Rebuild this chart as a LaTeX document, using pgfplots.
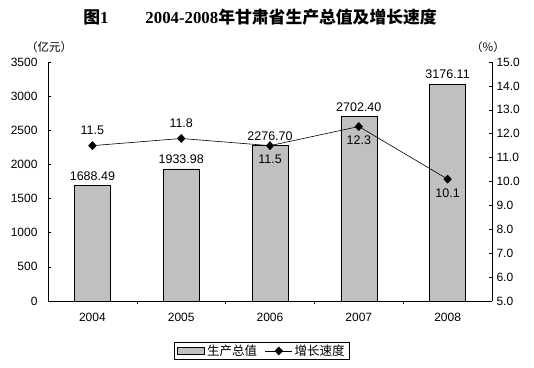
\documentclass[border=0pt]{standalone}
\usepackage{fontspec}
\setmainfont{Liberation Sans}
\newfontfamily\cjk{Noto Sans CJK SC}
\newfontfamily\titlelat{Liberation Serif}
\usepackage{pgfplots}
\pgfplotsset{compat=1.18}
\definecolor{bargray}{HTML}{C0C0C0}
\pgfplotsset{
  barleg/.style={legend image code/.code={\draw[fill=bargray,draw=black,line width=0.6pt] (0pt,-3.5pt) rectangle (27pt,3.5pt);}},
  lineleg/.style={legend image code/.code={\draw[##1, mark repeat=2, mark phase=2] plot coordinates {(0pt,0pt) (13.5pt,0pt) (27pt,0pt)};}},
}
\begin{document}
\begin{tikzpicture}[x=1pt,y=1pt]
\path[use as bounding box] (-48,-66) rectangle (486,301);
\begin{axis}[
  scale only axis, width=444pt, height=239pt, at={(0,0)}, anchor=south west,
  xmin=-0.5, xmax=4.5, ymin=0, ymax=3500,
  ytick={0,500,...,3500},
  axis x line*=bottom, axis y line*=left,
  xtick={0.5,1.5,2.5,3.5}, xticklabels={},
  extra x ticks={0,1,2,3,4},
  extra x tick labels={2004,2005,2006,2007,2008},
  extra x tick style={major tick length=0pt},
  tick align=inside, major tick length=3pt,
  every tick/.style={black, line width=0.6pt},
  axis line style={black, line width=0.6pt},
  ticklabel style={font=\fontsize{12}{14}\selectfont},
  xticklabel style={yshift=-9pt},
  yticklabel style={xshift=-7pt},
  /pgf/number format/assume math mode=true,
  /pgf/number format/1000 sep={},
  ybar, bar width=36pt,
  nodes near coords,
  point meta=explicit symbolic,
  every node near coord/.append style={font=\fontsize{12.5}{14}\selectfont, anchor=south, yshift=1.5pt},
]
\addplot[fill=bargray, draw=black, line width=0.6pt] table[meta=lab] {
x y lab
0 1688.49 1688.49
1 1933.98 1933.98
2 2276.70 2276.70
3 2702.40 2702.40
4 3176.11 3176.11
};
\end{axis}
\begin{axis}[
  scale only axis, width=444pt, height=239pt, at={(0,0)}, anchor=south west,
  xmin=-0.5, xmax=4.5, ymin=5, ymax=15,
  ytick={5,6,...,15},
  axis x line=none, axis y line*=right,
  tick align=inside, major tick length=3pt,
  every tick/.style={black, line width=0.6pt},
  axis line style={black, line width=0.6pt},
  ticklabel style={font=\fontsize{12}{14}\selectfont},
  yticklabel style={xshift=1pt},
  /pgf/number format/assume math mode=true,
  /pgf/number format/.cd, fixed, fixed zerofill, precision=1,
  /pgfplots/.cd,
  legend columns=2,
  legend style={at={(axis description cs:0.482,-0.209)}, anchor=center,
    draw=black, line width=0.6pt, font=\cjk\fontsize{12.5}{14}\selectfont,
    inner xsep=3pt, inner ysep=0.5pt,
    /tikz/every even column/.append style={column sep=6pt}},
]
\addlegendimage{barleg}
\addlegendentry{生产总值}
\addplot[black, line width=0.6pt, mark=diamond*, mark size=4pt, mark options={xscale=1.25}, lineleg]
 table {
x y
0 11.5
1 11.8
2 11.5
3 12.3
4 10.1
};
\addlegendentry{增长速度}
\addplot[draw=none, nodes near coords, point meta=explicit symbolic,
  every node near coord/.append style={font=\fontsize{12.5}{14}\selectfont, anchor=south, yshift=7pt}, forget plot]
 table[meta=lab] {
x y lab
0 11.5 11.5
1 11.8 11.8
};
\addplot[draw=none, nodes near coords, point meta=explicit symbolic,
  every node near coord/.append style={font=\fontsize{12.5}{14}\selectfont, anchor=north, yshift=-6pt}, forget plot]
 table[meta=lab] {
x y lab
2 11.5 11.5
3 12.3 12.3
4 10.1 10.1
};
\end{axis}
\node[font=\cjk\fontsize{11.5}{14}\selectfont] at (1,254) {（亿元）};
\node[font=\cjk\fontsize{11.5}{14}\selectfont] at (440,254) {（\%）};
\node[font=\fontsize{16.8}{18}\selectfont\bfseries] at (212,284) {{\cjk 图}{\titlelat 1}\hspace{37pt}{\titlelat 2004-2008}{\cjk 年甘肃省生产总值及增长速度}};
\end{tikzpicture}
\end{document}
